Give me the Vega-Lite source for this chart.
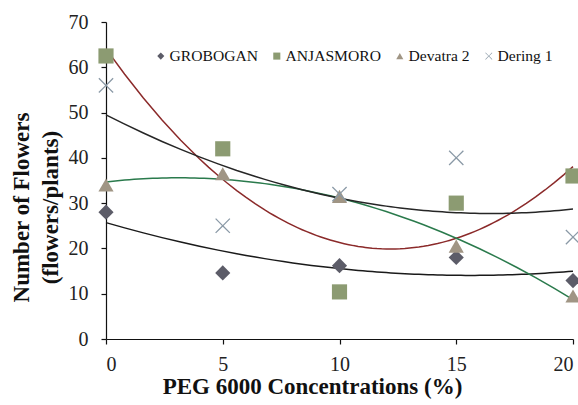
{
  "$schema": "https://vega.github.io/schema/vega-lite/v6.json",
  "autosize": {"type": "none"},
  "width": 467,
  "height": 317,
  "padding": {"left": 106, "top": 22, "right": 5, "bottom": 66},
  "background": "white",
  "config": {
    "view": {"stroke": null},
    "font": "Liberation Serif",
    "axis": {"grid": false, "domainColor": "#111", "tickColor": "#111", "domainWidth": 1.2, "tickWidth": 1.2, "tickSize": 5, "labelFont": "Liberation Serif", "labelFontSize": 20, "labelColor": "#222", "titleFont": "Liberation Serif", "titleFontSize": 23, "titleFontWeight": "bold", "titleColor": "#111"}
  },
  "data": {"values": [
    {"peg": 0, "variety": "GROBOGAN", "flowers": 28},
    {"peg": 5, "variety": "GROBOGAN", "flowers": 14.6},
    {"peg": 10, "variety": "GROBOGAN", "flowers": 16.2},
    {"peg": 15, "variety": "GROBOGAN", "flowers": 18},
    {"peg": 20, "variety": "GROBOGAN", "flowers": 12.9},
    {"peg": 0, "variety": "ANJASMORO", "flowers": 62.5},
    {"peg": 5, "variety": "ANJASMORO", "flowers": 42},
    {"peg": 10, "variety": "ANJASMORO", "flowers": 10.4},
    {"peg": 15, "variety": "ANJASMORO", "flowers": 30},
    {"peg": 20, "variety": "ANJASMORO", "flowers": 36},
    {"peg": 0, "variety": "Devatra 2", "flowers": 34},
    {"peg": 5, "variety": "Devatra 2", "flowers": 36.5},
    {"peg": 10, "variety": "Devatra 2", "flowers": 31.5},
    {"peg": 15, "variety": "Devatra 2", "flowers": 20.5},
    {"peg": 20, "variety": "Devatra 2", "flowers": 9.5},
    {"peg": 0, "variety": "Dering 1", "flowers": 56},
    {"peg": 5, "variety": "Dering 1", "flowers": 25},
    {"peg": 10, "variety": "Dering 1", "flowers": 32},
    {"peg": 15, "variety": "Dering 1", "flowers": 40},
    {"peg": 20, "variety": "Dering 1", "flowers": 22.5}
  ]},
  "encoding": {
    "x": {"field": "peg", "type": "quantitative", "scale": {"domain": [0, 20], "nice": false, "zero": false},
      "axis": {"values": [0, 5, 10, 15, 20], "title": "PEG 6000 Concentrations  (%)", "labelPadding": 10, "titleX": 206, "titleY": 54, "titleBaseline": "alphabetic", "titleAnchor": null, "titleAlign": "center"}},
    "y": {"field": "flowers", "type": "quantitative", "scale": {"domain": [0, 70], "nice": false},
      "axis": {"values": [0, 10, 20, 30, 40, 50, 60, 70], "title": ["Number  of Flowers", "(flowers/plants)"], "labelPadding": 13, "titleX": -78, "titleY": 185, "titleAlign": "center", "titleBaseline": "alphabetic", "titleAngle": -90, "titleLineHeight": 29}}
  },
  "layer": [
    {
      "transform": [{"filter": {"field": "variety", "equal": "GROBOGAN"}}, {"regression": "flowers", "on": "peg", "method": "poly", "order": 2, "extent": [0, 20]}],
      "mark": {"type": "line", "strokeWidth": 1.5, "color": "#1a1a1a"},
      "encoding": {}
    },
    {
      "transform": [{"filter": {"field": "variety", "equal": "ANJASMORO"}}, {"regression": "flowers", "on": "peg", "method": "poly", "order": 2, "extent": [0, 20]}],
      "mark": {"type": "line", "strokeWidth": 1.5, "color": "#8b2a2a"},
      "encoding": {}
    },
    {
      "transform": [{"filter": {"field": "variety", "equal": "Devatra 2"}}, {"regression": "flowers", "on": "peg", "method": "poly", "order": 2, "extent": [0, 20]}],
      "mark": {"type": "line", "strokeWidth": 1.5, "color": "#2a7a4c"},
      "encoding": {}
    },
    {
      "transform": [{"filter": {"field": "variety", "equal": "Dering 1"}}, {"regression": "flowers", "on": "peg", "method": "poly", "order": 2, "extent": [0, 20]}],
      "mark": {"type": "line", "strokeWidth": 1.5, "color": "#262626"},
      "encoding": {}
    },
    {
      "mark": {"type": "point", "filled": true, "opacity": 1},
      "encoding": {
        "color": {"field": "variety", "type": "nominal", "scale": {"domain": ["GROBOGAN", "ANJASMORO", "Devatra 2", "Dering 1"], "range": ["#5c5c68", "#8c9b72", "#a09584", "#8a99a6"]},
          "legend": {"title": null, "orient": "none", "legendX": 47, "legendY": 26, "direction": "horizontal", "labelFont": "Liberation Serif", "labelFontSize": 15.6, "labelColor": "#111", "symbolSize": 50, "labelOffset": 1, "columnPadding": 11, "symbolOpacity": 1}},
        "shape": {"field": "variety", "type": "nominal", "scale": {"domain": ["GROBOGAN", "ANJASMORO", "Devatra 2", "Dering 1"], "range": ["diamond", "square", "triangle-up", "M-1,-0.88L-0.88,-1L0,-0.12L0.88,-1L1,-0.88L0.12,0L1,0.88L0.88,1L0,0.12L-0.88,1L-1,0.88L-0.12,0Z"]}},
        "size": {"value": 230}
      }
    }
  ]
}
